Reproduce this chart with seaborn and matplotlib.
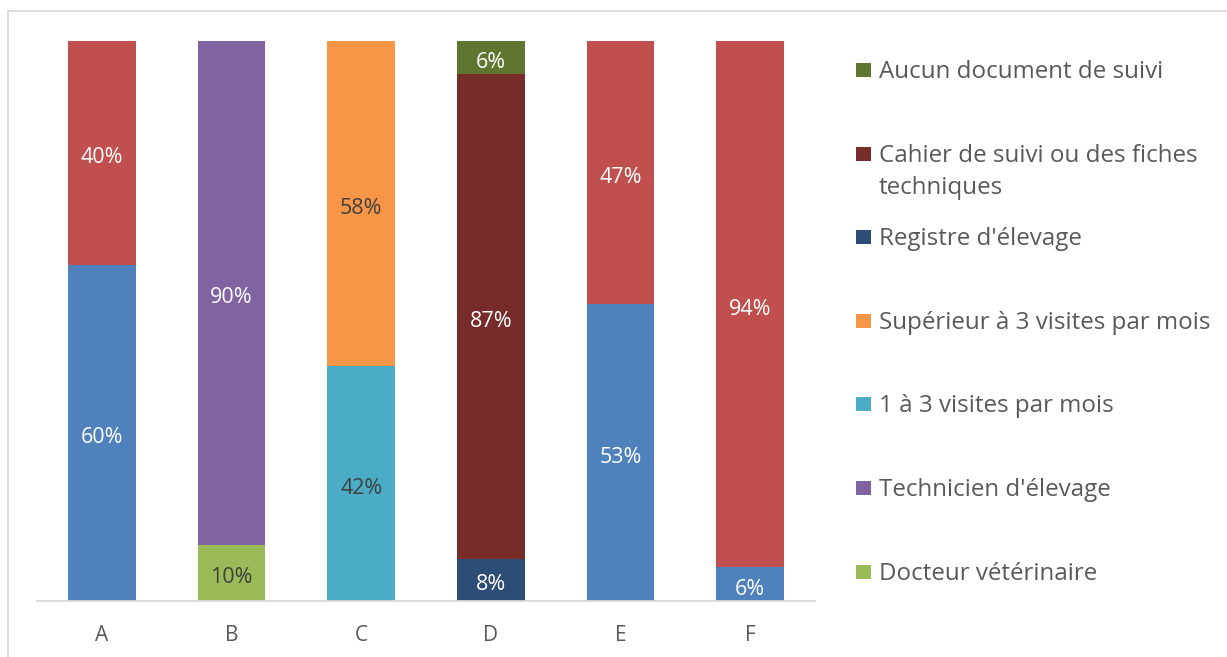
import numpy as np
import pandas as pd
import seaborn as sns
import matplotlib.pyplot as plt
from matplotlib.patches import Rectangle

categories = ['A', 'B', 'C', 'D', 'E', 'F']

# stack order, bottom to top
bleu = [60, 0, 0, 0, 53, 6]
rouge = [40, 0, 0, 0, 47, 94]
docteur = [0, 10, 0, 0, 0, 0]
technicien = [0, 90, 0, 0, 0, 0]
visites_1_3 = [0, 0, 42, 0, 0, 0]
visites_sup3 = [0, 0, 58, 0, 0, 0]
registre = [0, 0, 0, 7.5, 0, 0]
cahier = [0, 0, 0, 86.6, 0, 0]
aucun = [0, 0, 0, 5.9, 0, 0]

series_names = ['bleu', 'rouge', 'Docteur vétérinaire', "Technicien d'élevage",
                '1 à 3 visites par mois', 'Supérieur à 3 visites par mois',
                "Registre d'élevage", 'Cahier de suivi ou des fiches\ntechniques',
                'Aucun document de suivi']
series_values = [bleu, rouge, docteur, technicien, visites_1_3, visites_sup3,
                 registre, cahier, aucun]
colors = ['#4F81BD', '#C0504D', '#9BBB59', '#8064A2', '#4BACC6', '#F79646',
          '#2C4D75', '#772C2A', '#5F7530']
label_colors = ['white', 'white', '#404040', 'white', '#404040', '#404040',
                'white', 'white', 'white']
in_legend = [False, False, True, True, True, True, True, True, True]

rows = []
for name, vals in zip(series_names, series_values):
    for cat, v in zip(categories, vals):
        rows.append({'cat': cat, 'serie': name, 'val': v})
df = pd.DataFrame(rows)
wide = df.pivot(index='cat', columns='serie', values='val').loc[categories, series_names]
tops = wide.cumsum(axis=1)
bottoms = tops - wide

W, H = 1227, 657
fig = plt.figure(figsize=(W / 100, H / 100), dpi=100)
plt.rcParams['font.family'] = ['Open Sans', 'DejaVu Sans']
ax = fig.add_axes([37 / W, 1 - 601 / H, (815 - 37) / W, 560 / H])

# draw cumulative bars from the top series down so lower ones cover
for name, col in reversed(list(zip(series_names, colors))):
    d = pd.DataFrame({'cat': categories, 'top': tops[name].values})
    sns.barplot(data=d, x='cat', y='top', order=categories, color=col,
                saturation=1, width=0.52, ax=ax)

for name, lc in zip(series_names, label_colors):
    for i, cat in enumerate(categories):
        v = wide.loc[cat, name]
        if v > 0:
            ax.annotate(f'{v:.0f}%', (i, bottoms.loc[cat, name] + v / 2),
                        xytext=(0, -3.5), textcoords='offset points',
                        ha='center', va='center', color=lc, fontsize=15.5)

ax.set_ylim(0, 100)
ax.set_xlim(-0.5, len(categories) - 0.5)
ax.set_xlabel('')
ax.set_ylabel('')
ax.set_yticks([])
for s in ['top', 'right', 'left']:
    ax.spines[s].set_visible(False)
ax.spines['bottom'].set_color('#D9D9D9')
ax.spines['bottom'].set_linewidth(1.3)
ax.tick_params(axis='x', length=0, pad=17, labelsize=15, labelcolor='#595959')

# legend, Excel-style order (top series first)
leg_items = [(n, c) for n, c, f in zip(series_names, colors, in_legend) if f][::-1]
for k, (name, col) in enumerate(leg_items):
    yc = 70 + 83.6 * k
    fig.patches.append(Rectangle((856 / W, 1 - (yc + 7) / H), 15 / W, 14 / H,
                                 facecolor=col, transform=fig.transFigure))
    for j, line in enumerate(name.split('\n')):
        fig.text(879 / W, 1 - (yc + 2 + 32 * j) / H, line, ha='left', va='center',
                 color='#595959', fontsize=17.4)

# chart frame
fig.add_artist(plt.Line2D([8 / W, 8 / W], [0, 1 - 11 / H], color='#D9D9D9', lw=1.3))
fig.add_artist(plt.Line2D([8 / W, 1], [1 - 11 / H, 1 - 11 / H], color='#D9D9D9', lw=1.3))

fig.savefig('out.png', dpi=100)
